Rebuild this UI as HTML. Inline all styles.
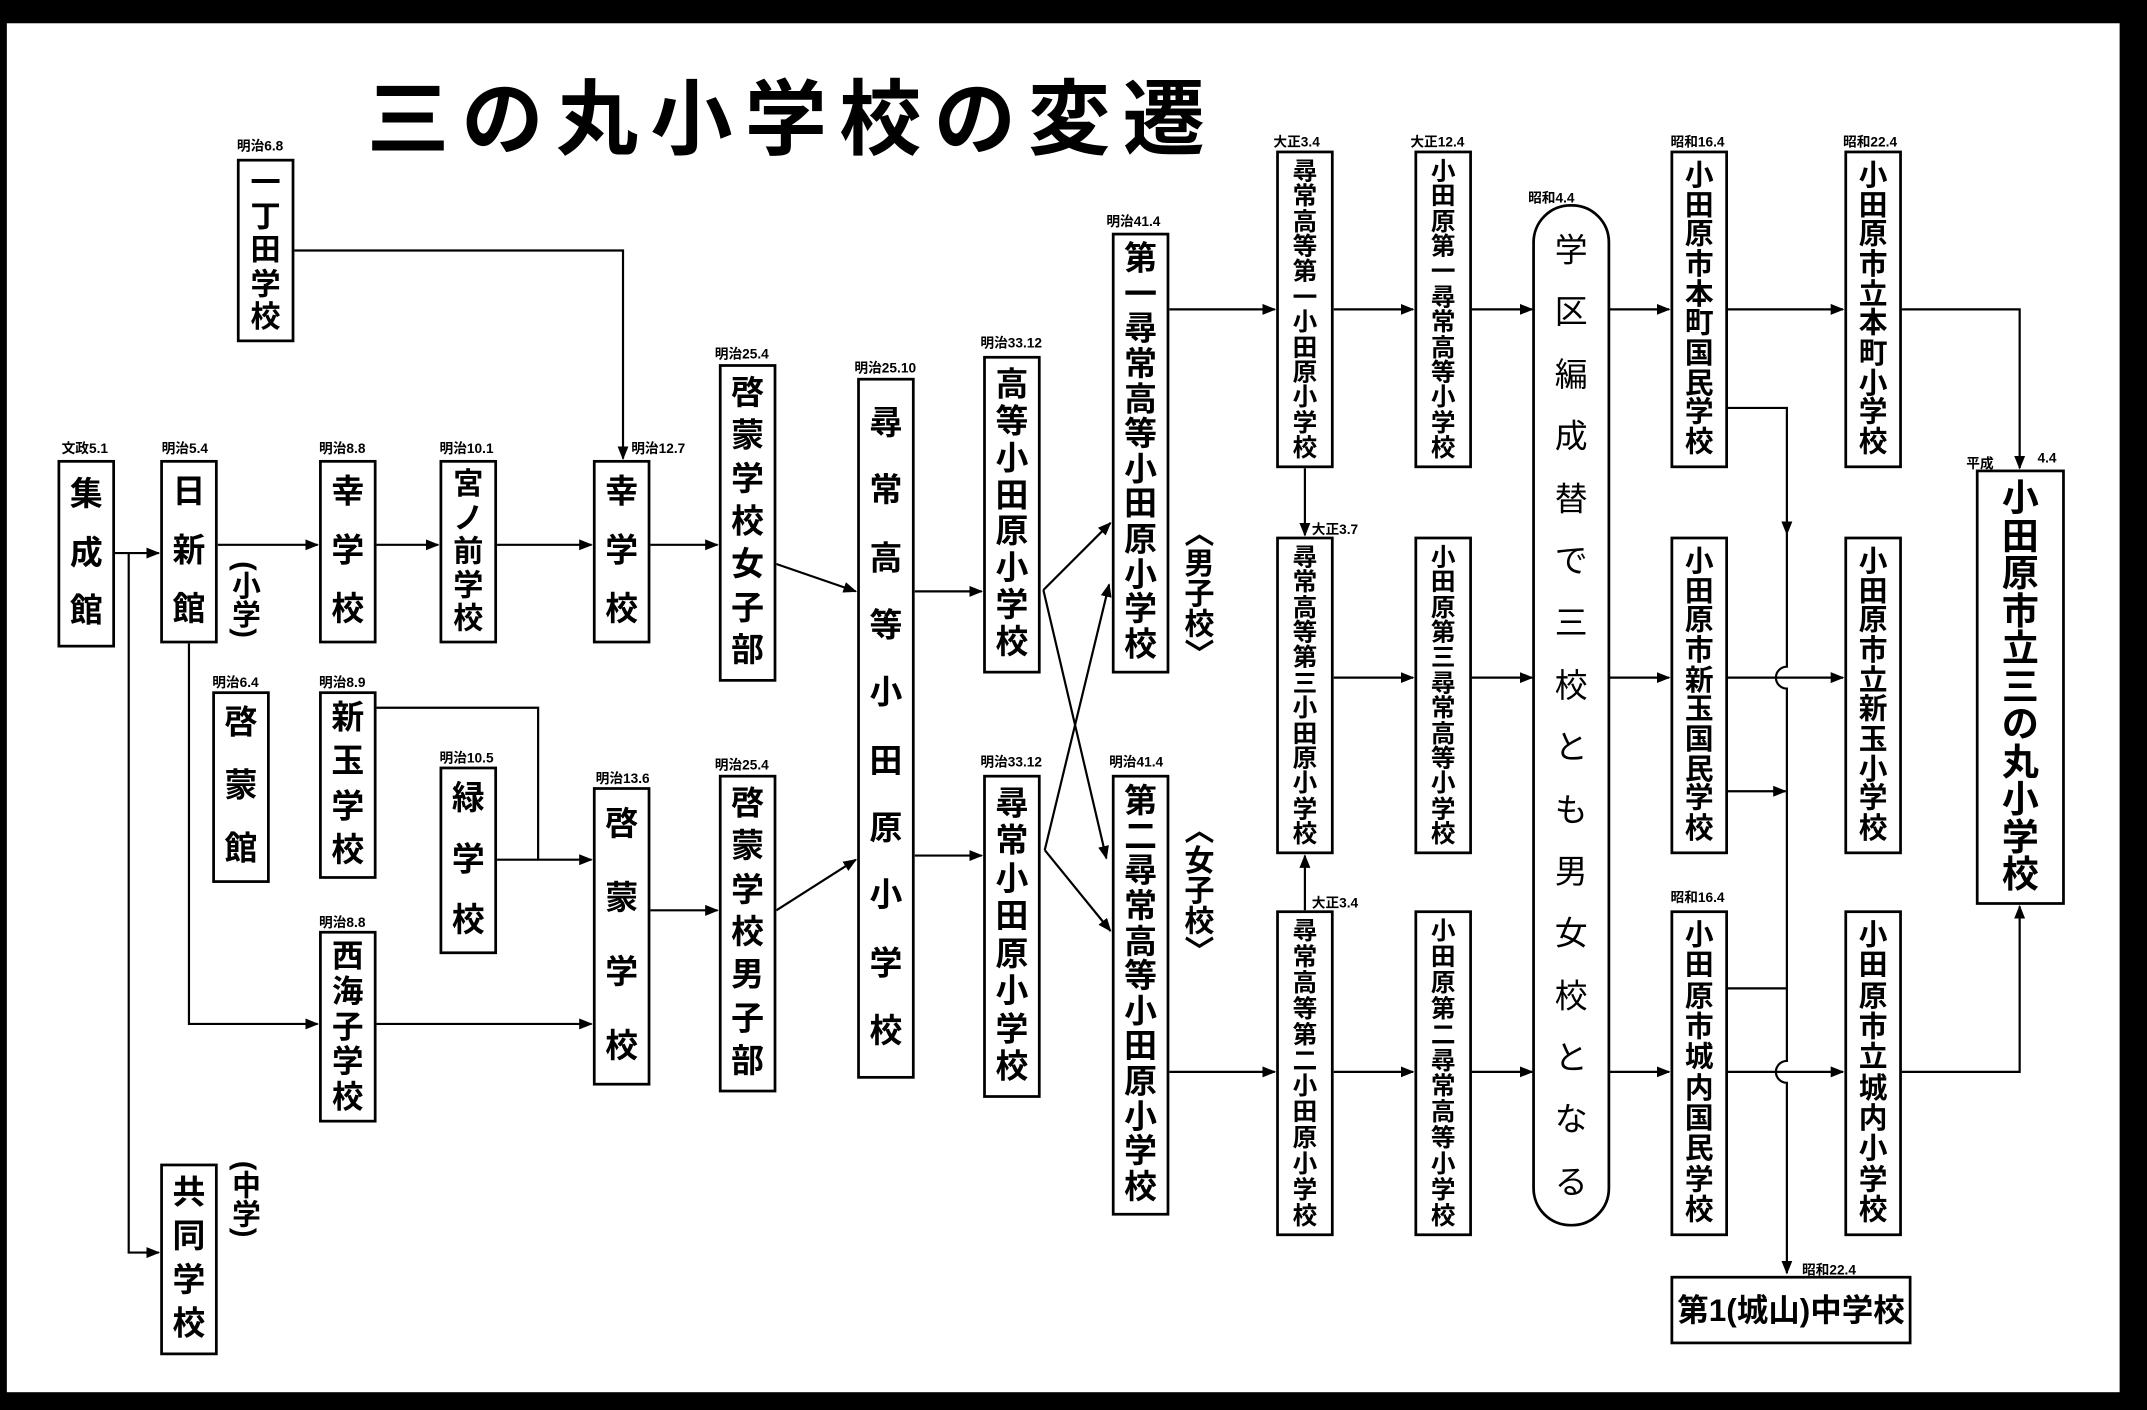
<!DOCTYPE html>
<html><head><meta charset="utf-8">
<style>
html,body{margin:0;padding:0;background:#000;}
#wrap{position:relative;width:1568px;height:1030px;transform:scale(1.36926,1.36893);transform-origin:0 0;overflow:hidden;background:#000;}
#paper{position:absolute;left:5px;top:17px;width:1543px;height:1000px;background:#fff;}
.b{position:absolute;border:2px solid #000;box-sizing:border-box;background:#fff;font-family:"Liberation Sans","Noto Sans CJK JP",sans-serif;font-weight:bold;display:flex;flex-direction:column;align-items:center;justify-content:space-between;color:#000;line-height:1;}
.b span{display:block;}
.d{position:absolute;font-family:"Liberation Sans","Noto Sans CJK JP",sans-serif;font-size:10px;font-weight:bold;white-space:nowrap;color:#000;}
.v{position:absolute;writing-mode:vertical-rl;font-family:"Liberation Sans","Noto Sans CJK JP",sans-serif;font-weight:bold;font-size:22px;color:#000;}
svg{position:absolute;left:0;top:0;}
</style></head><body>
<div id="wrap">
<div id="paper"></div>
<svg width="1568" height="1030" viewBox="0 0 1568 1030">
<defs><marker id="a" markerWidth="10" markerHeight="8" refX="9" refY="4" orient="auto" markerUnits="userSpaceOnUse"><path d="M0,0 L10,4 L0,8 z" fill="#000"/></marker></defs>
<g stroke="#000" stroke-width="1.6" fill="none">
<line x1="84" y1="404" x2="116" y2="404" marker-end="url(#a)"/>
<polyline points="94,404 94,915 116,915" marker-end="url(#a)"/>
<line x1="159" y1="398" x2="232" y2="398" marker-end="url(#a)"/>
<line x1="275" y1="398" x2="320" y2="398" marker-end="url(#a)"/>
<line x1="363" y1="398" x2="432" y2="398" marker-end="url(#a)"/>
<line x1="475" y1="398" x2="524" y2="398" marker-end="url(#a)"/>
<polyline points="215,183 455,183 455,335" marker-end="url(#a)"/>
<polyline points="138,470 138,748 232,748" marker-end="url(#a)"/>
<line x1="275" y1="748" x2="432" y2="748" marker-end="url(#a)"/>
<polyline points="275,517 393,517 393,628 432,628" marker-end="url(#a)"/>
<line x1="363" y1="628" x2="393" y2="628"/>
<line x1="475" y1="665" x2="524" y2="665" marker-end="url(#a)"/>
<line x1="567" y1="412" x2="625" y2="432" marker-end="url(#a)"/>
<line x1="567" y1="665" x2="625" y2="628" marker-end="url(#a)"/>
<line x1="668" y1="432" x2="717" y2="432" marker-end="url(#a)"/>
<line x1="668" y1="625" x2="717" y2="625" marker-end="url(#a)"/>
<line x1="762" y1="431" x2="811" y2="382" marker-end="url(#a)"/>
<line x1="762" y1="431" x2="808" y2="627" marker-end="url(#a)"/>
<line x1="763" y1="621" x2="810" y2="427" marker-end="url(#a)"/>
<line x1="763" y1="621" x2="811" y2="680" marker-end="url(#a)"/>
<line x1="854" y1="226" x2="931" y2="226" marker-end="url(#a)"/>
<line x1="974" y1="226" x2="1032" y2="226" marker-end="url(#a)"/>
<line x1="1075" y1="226" x2="1119" y2="226" marker-end="url(#a)"/>
<line x1="1175" y1="226" x2="1219" y2="226" marker-end="url(#a)"/>
<line x1="1262" y1="226" x2="1346" y2="226" marker-end="url(#a)"/>
<polyline points="1389,226 1475,226 1475,342" marker-end="url(#a)"/>
<line x1="953" y1="342" x2="953" y2="391" marker-end="url(#a)"/>
<line x1="974" y1="495" x2="1032" y2="495" marker-end="url(#a)"/>
<line x1="1075" y1="495" x2="1119" y2="495" marker-end="url(#a)"/>
<line x1="1175" y1="495" x2="1219" y2="495" marker-end="url(#a)"/>
<line x1="1262" y1="495" x2="1346" y2="495" marker-end="url(#a)"/>
<polyline points="1262,298 1305,298 1305,390" marker-end="url(#a)"/>
<path d="M1305,390 L1305,487 A8,8 0 0 0 1305,503 L1305,775 A8,8 0 0 0 1305,791 L1305,930" marker-end="url(#a)"/>
<line x1="1262" y1="578" x2="1304" y2="578" marker-end="url(#a)"/>
<line x1="1262" y1="722" x2="1305" y2="722"/>
<line x1="854" y1="783" x2="931" y2="783" marker-end="url(#a)"/>
<line x1="974" y1="783" x2="1032" y2="783" marker-end="url(#a)"/>
<line x1="1075" y1="783" x2="1119" y2="783" marker-end="url(#a)"/>
<line x1="1175" y1="783" x2="1219" y2="783" marker-end="url(#a)"/>
<line x1="1262" y1="783" x2="1346" y2="783" marker-end="url(#a)"/>
<polyline points="1389,783 1475,783 1475,662" marker-end="url(#a)"/>
<line x1="953" y1="665" x2="953" y2="625" marker-end="url(#a)"/>
</g>
<rect x="1120" y="150" width="55" height="745" rx="27" ry="27" fill="#fff" stroke="#000" stroke-width="2"/>
<text x="268" y="108" font-family="'Liberation Sans','Noto Sans CJK JP',sans-serif" font-size="60" font-weight="bold" letter-spacing="9">三の丸小学校の変遷</text>
</svg>

<div class="b" style="left:42px;top:336px;width:42px;height:137px;font-size:24px;padding:12px 0"><span>集</span><span>成</span><span>館</span></div>
<div class="b" style="left:117px;top:336px;width:42px;height:134px;font-size:24px;padding:10px 0"><span>日</span><span>新</span><span>館</span></div>
<div class="b" style="left:233px;top:336px;width:42px;height:134px;font-size:24px;padding:10px 0"><span>幸</span><span>学</span><span>校</span></div>
<div class="b" style="left:321px;top:336px;width:42px;height:134px;font-size:22px;padding:5px 0"><span>宮</span><span>ノ</span><span>前</span><span>学</span><span>校</span></div>
<div class="b" style="left:433px;top:336px;width:42px;height:134px;font-size:24px;padding:10px 0"><span>幸</span><span>学</span><span>校</span></div>
<div class="b" style="left:173px;top:116px;width:42px;height:134px;font-size:22px;padding:5px 0"><span>一</span><span>丁</span><span>田</span><span>学</span><span>校</span></div>
<div class="b" style="left:525px;top:266px;width:42px;height:232px;font-size:24px;padding:8px 0"><span>啓</span><span>蒙</span><span>学</span><span>校</span><span>女</span><span>子</span><span>部</span></div>
<div class="b" style="left:626px;top:276px;width:42px;height:512px;font-size:24px;padding:20px 0"><span>尋</span><span>常</span><span>高</span><span>等</span><span>小</span><span>田</span><span>原</span><span>小</span><span>学</span><span>校</span></div>
<div class="b" style="left:718px;top:260px;width:42px;height:232px;font-size:24px;padding:8px 0"><span>高</span><span>等</span><span>小</span><span>田</span><span>原</span><span>小</span><span>学</span><span>校</span></div>
<div class="b" style="left:812px;top:170px;width:42px;height:322px;font-size:24px;padding:6px 0"><span>第</span><span>一</span><span>尋</span><span>常</span><span>高</span><span>等</span><span>小</span><span>田</span><span>原</span><span>小</span><span>学</span><span>校</span></div>
<div class="b" style="left:155px;top:505px;width:42px;height:140px;font-size:24px;padding:10px 0"><span>啓</span><span>蒙</span><span>館</span></div>
<div class="b" style="left:233px;top:505px;width:42px;height:137px;font-size:24px;padding:6px 0"><span>新</span><span>玉</span><span>学</span><span>校</span></div>
<div class="b" style="left:321px;top:560px;width:42px;height:137px;font-size:24px;padding:10px 0"><span>緑</span><span>学</span><span>校</span></div>
<div class="b" style="left:433px;top:575px;width:42px;height:218px;font-size:24px;padding:14px 0"><span>啓</span><span>蒙</span><span>学</span><span>校</span></div>
<div class="b" style="left:525px;top:566px;width:42px;height:232px;font-size:24px;padding:8px 0"><span>啓</span><span>蒙</span><span>学</span><span>校</span><span>男</span><span>子</span><span>部</span></div>
<div class="b" style="left:718px;top:566px;width:42px;height:236px;font-size:24px;padding:8px 0"><span>尋</span><span>常</span><span>小</span><span>田</span><span>原</span><span>小</span><span>学</span><span>校</span></div>
<div class="b" style="left:812px;top:566px;width:42px;height:322px;font-size:24px;padding:6px 0"><span>第</span><span>二</span><span>尋</span><span>常</span><span>高</span><span>等</span><span>小</span><span>田</span><span>原</span><span>小</span><span>学</span><span>校</span></div>
<div class="b" style="left:233px;top:680px;width:42px;height:140px;font-size:23px;padding:5px 0"><span>西</span><span>海</span><span>子</span><span>学</span><span>校</span></div>
<div class="b" style="left:117px;top:850px;width:42px;height:140px;font-size:24px;padding:8px 0"><span>共</span><span>同</span><span>学</span><span>校</span></div>
<div class="b" style="left:932px;top:110px;width:42px;height:232px;font-size:18px;padding:4px 0"><span>尋</span><span>常</span><span>高</span><span>等</span><span>第</span><span>一</span><span>小</span><span>田</span><span>原</span><span>小</span><span>学</span><span>校</span></div>
<div class="b" style="left:1033px;top:110px;width:42px;height:232px;font-size:18px;padding:4px 0"><span>小</span><span>田</span><span>原</span><span>第</span><span>一</span><span>尋</span><span>常</span><span>高</span><span>等</span><span>小</span><span>学</span><span>校</span></div>
<div class="b" style="left:1220px;top:110px;width:42px;height:232px;font-size:21px;padding:6px 0"><span>小</span><span>田</span><span>原</span><span>市</span><span>本</span><span>町</span><span>国</span><span>民</span><span>学</span><span>校</span></div>
<div class="b" style="left:1347px;top:110px;width:42px;height:232px;font-size:21px;padding:6px 0"><span>小</span><span>田</span><span>原</span><span>市</span><span>立</span><span>本</span><span>町</span><span>小</span><span>学</span><span>校</span></div>
<div class="b" style="left:932px;top:392px;width:42px;height:232px;font-size:18px;padding:4px 0"><span>尋</span><span>常</span><span>高</span><span>等</span><span>第</span><span>三</span><span>小</span><span>田</span><span>原</span><span>小</span><span>学</span><span>校</span></div>
<div class="b" style="left:1033px;top:392px;width:42px;height:232px;font-size:18px;padding:4px 0"><span>小</span><span>田</span><span>原</span><span>第</span><span>三</span><span>尋</span><span>常</span><span>高</span><span>等</span><span>小</span><span>学</span><span>校</span></div>
<div class="b" style="left:1220px;top:392px;width:42px;height:232px;font-size:21px;padding:6px 0"><span>小</span><span>田</span><span>原</span><span>市</span><span>新</span><span>玉</span><span>国</span><span>民</span><span>学</span><span>校</span></div>
<div class="b" style="left:1347px;top:392px;width:42px;height:232px;font-size:21px;padding:6px 0"><span>小</span><span>田</span><span>原</span><span>市</span><span>立</span><span>新</span><span>玉</span><span>小</span><span>学</span><span>校</span></div>
<div class="b" style="left:932px;top:665px;width:42px;height:238px;font-size:18px;padding:4px 0"><span>尋</span><span>常</span><span>高</span><span>等</span><span>第</span><span>二</span><span>小</span><span>田</span><span>原</span><span>小</span><span>学</span><span>校</span></div>
<div class="b" style="left:1033px;top:665px;width:42px;height:238px;font-size:18px;padding:4px 0"><span>小</span><span>田</span><span>原</span><span>第</span><span>二</span><span>尋</span><span>常</span><span>高</span><span>等</span><span>小</span><span>学</span><span>校</span></div>
<div class="b" style="left:1220px;top:665px;width:42px;height:238px;font-size:21px;padding:6px 0"><span>小</span><span>田</span><span>原</span><span>市</span><span>城</span><span>内</span><span>国</span><span>民</span><span>学</span><span>校</span></div>
<div class="b" style="left:1347px;top:665px;width:42px;height:238px;font-size:21px;padding:6px 0"><span>小</span><span>田</span><span>原</span><span>市</span><span>立</span><span>城</span><span>内</span><span>小</span><span>学</span><span>校</span></div>
<div class="b" style="left:1443px;top:343px;width:65px;height:318px;font-size:27px;padding:6px 0"><span>小</span><span>田</span><span>原</span><span>市</span><span>立</span><span>三</span><span>の</span><span>丸</span><span>小</span><span>学</span><span>校</span></div>
<div class="b" style="left:1122px;top:172px;width:51px;height:705px;font-size:24px;font-weight:normal;padding:0;border:none;background:transparent"><span>学</span><span>区</span><span>編</span><span>成</span><span>替</span><span>で</span><span>三</span><span>校</span><span>と</span><span>も</span><span>男</span><span>女</span><span>校</span><span>と</span><span>な</span><span>る</span></div>
<div class="b" style="left:1220px;top:932px;width:176px;height:50px;font-size:23px;justify-content:center">第1(城山)中学校</div>

<div class="v" style="left:163px;top:410px;font-size:21px">(小学)</div>
<div class="v" style="left:163px;top:848px;font-size:21px">(中学)</div>
<div class="v" style="left:858px;top:378px;font-size:22px">〈男子校〉</div>
<div class="v" style="left:858px;top:595px;font-size:22px">〈女子校〉</div>

<div class="d" style="left:45px;top:319px">文政5.1</div>
<div class="d" style="left:118px;top:319px">明治5.4</div>
<div class="d" style="left:233px;top:319px">明治8.8</div>
<div class="d" style="left:321px;top:319px">明治10.1</div>
<div class="d" style="left:461px;top:319px">明治12.7</div>
<div class="d" style="left:173px;top:98px">明治6.8</div>
<div class="d" style="left:522px;top:250px">明治25.4</div>
<div class="d" style="left:624px;top:260px">明治25.10</div>
<div class="d" style="left:716px;top:242px">明治33.12</div>
<div class="d" style="left:808px;top:153px">明治41.4</div>
<div class="d" style="left:155px;top:490px">明治6.4</div>
<div class="d" style="left:233px;top:490px">明治8.9</div>
<div class="d" style="left:321px;top:545px">明治10.5</div>
<div class="d" style="left:435px;top:560px">明治13.6</div>
<div class="d" style="left:522px;top:550px">明治25.4</div>
<div class="d" style="left:716px;top:548px">明治33.12</div>
<div class="d" style="left:810px;top:548px">明治41.4</div>
<div class="d" style="left:233px;top:665px">明治8.8</div>
<div class="d" style="left:930px;top:95px">大正3.4</div>
<div class="d" style="left:1030px;top:95px">大正12.4</div>
<div class="d" style="left:1116px;top:136px">昭和4.4</div>
<div class="d" style="left:1220px;top:95px">昭和16.4</div>
<div class="d" style="left:1346px;top:95px">昭和22.4</div>
<div class="d" style="left:958px;top:378px">大正3.7</div>
<div class="d" style="left:958px;top:651px">大正3.4</div>
<div class="d" style="left:1220px;top:647px">昭和16.4</div>
<div class="d" style="left:1316px;top:919px">昭和22.4</div>
<div class="d" style="left:1436px;top:330px">平成</div>
<div class="d" style="left:1488px;top:330px">4.4</div>
</div>
</body></html>
